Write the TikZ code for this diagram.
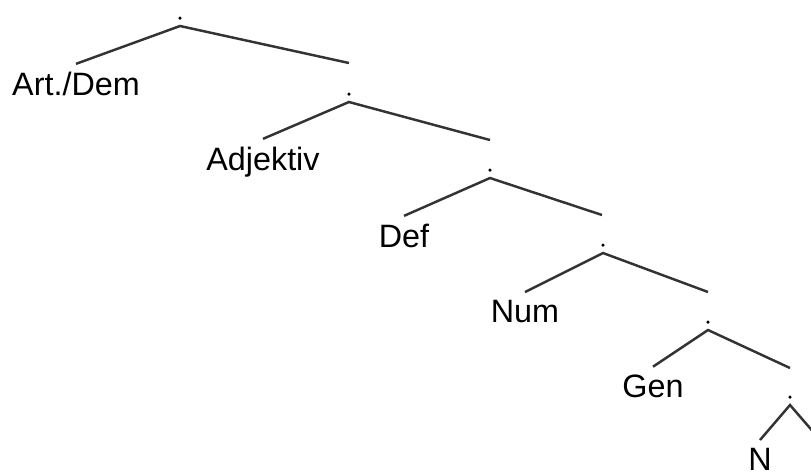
\documentclass[tikz,border=0pt]{standalone}
\usepackage{fontspec}
\setmainfont{Liberation Sans}
\usepackage{tikz}

\begin{document}
\begin{tikzpicture}[
    branch/.style={line width=0.7pt, black!80},
    dot/.style={circle, fill, inner sep=0pt, minimum size=0.035cm},
    leaf/.style={anchor=base, inner sep=2pt, font=\fontsize{9.2pt}{11pt}\selectfont}
  ]
  \clip (0,0) rectangle (8.11,4.72);
  % Art./Dem
  \node[dot] (d0) at (1.80,4.54) {};
  \coordinate (a0) at (1.80,4.46);
  \coordinate (r0) at (3.49,4.09);
  \node[leaf] (art) at (0.76,3.77) {Art./Dem};
  \draw[branch] (art.north) -- (a0) -- (r0);
  % Adjektiv
  \node[dot] (d1) at (3.49,3.78) {};
  \coordinate (a1) at (3.49,3.70);
  \coordinate (r1) at (4.90,3.32);
  \node[leaf] (adj) at (2.63,3.02) {Adjektiv};
  \draw[branch] (adj.north) -- (a1) -- (r1);
  % Def
  \node[dot] (d2) at (4.90,3.02) {};
  \coordinate (a2) at (4.90,2.94);
  \coordinate (r2) at (6.02,2.57);
  \node[leaf] (def) at (4.04,2.25) {Def};
  \draw[branch] (def.north) -- (a2) -- (r2);
  % Num
  \node[dot] (d3) at (6.03,2.27) {};
  \coordinate (a3) at (6.03,2.19);
  \coordinate (r3) at (7.08,1.80);
  \node[leaf] (num) at (5.25,1.50) {Num};
  \draw[branch] (num.north) -- (a3) -- (r3);
  % Gen
  \node[dot] (d4) at (7.08,1.50) {};
  \coordinate (a4) at (7.08,1.42);
  \coordinate (r4) at (7.90,1.04);
  \node[leaf] (gen) at (6.53,0.75) {Gen};
  \draw[branch] (gen.north) -- (a4) -- (r4);
  % N
  \node[dot] (d5) at (7.90,0.75) {};
  \coordinate (a5) at (7.90,0.67);
  \coordinate (r5) at (8.22,0.30);
  \node[leaf] (n) at (7.60,0.02) {N};
  \draw[branch] (n.north) -- (a5) -- (r5);
\end{tikzpicture}
\end{document}
